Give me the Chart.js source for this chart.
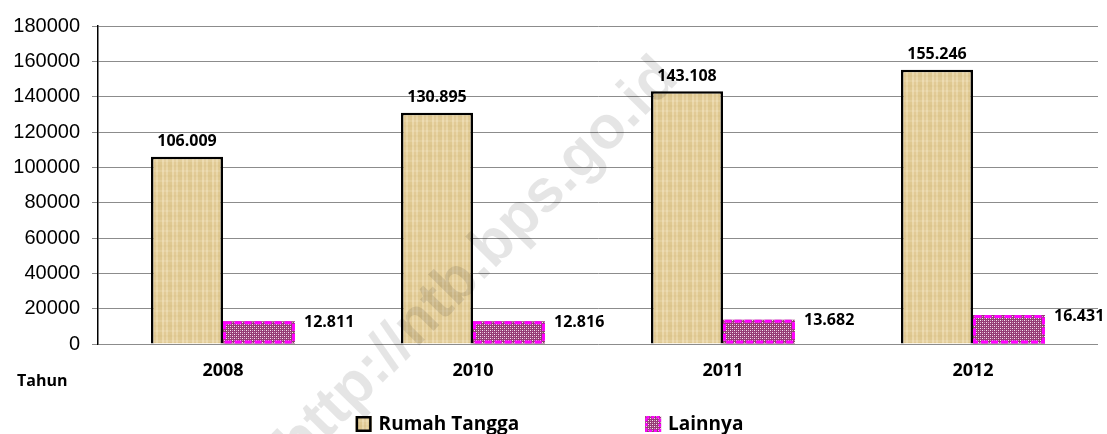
<!DOCTYPE html>
<html>
<head>
<meta charset="utf-8">
<script src="https://cdn.jsdelivr.net/npm/chart.js@4.4.1/dist/chart.umd.min.js"></script>
<style>
  html, body { margin: 0; padding: 0; background: #fff; }
  #wrap { width: 1107px; height: 434px; position: relative; }
</style>
</head>
<body>
<div id="wrap"><canvas id="c" width="1107" height="434"></canvas></div>
<script>
// ---- data ----
const categories = ['2008', '2010', '2011', '2012'];
const rumahTangga = [106009, 130895, 143108, 155246];
const lainnya = [12811, 12816, 13682, 16431];
const seriesNames = ['Rumah Tangga', 'Lainnya'];
const yTickMin = 0, yTickMax = 180000, yTickStep = 20000;
const axisTitle = 'Tahun';
const watermark = 'http://ntb.bps.go.id';

function fmt(v) {
  return String(v).replace(/\B(?=(\d{3})+(?!\d))/g, '.');
}

// ---- patterns ----
function makePapyrus() {
  const c = document.createElement('canvas');
  c.width = 30; c.height = 40;
  const g = c.getContext('2d');
  g.fillStyle = '#E5CF9C';
  g.fillRect(0, 0, 30, 40);
  const shades = ['rgba(200,170,100,0.18)', 'rgba(255,245,215,0.25)', 'rgba(205,175,105,0.12)',
                  'rgba(255,248,225,0.18)', 'rgba(195,165,95,0.15)'];
  for (let x = 0; x < 30; x += 2) {
    g.fillStyle = shades[(x / 2) % shades.length];
    g.fillRect(x, 0, 2, 40);
  }
  for (let y = 0; y < 40; y += 5) {
    g.fillStyle = y % 10 === 0 ? 'rgba(255,250,230,0.15)' : 'rgba(190,160,90,0.08)';
    g.fillRect(0, y, 30, 2);
  }
  return g.createPattern(c, 'repeat');
}
function makeChecker() {
  const c = document.createElement('canvas');
  c.width = 4; c.height = 4;
  const g = c.getContext('2d');
  g.fillStyle = '#953A74';
  g.fillRect(0, 0, 4, 4);
  g.fillStyle = '#F6E6F0';
  g.fillRect(0, 0, 1, 1);
  g.fillRect(2, 2, 1, 1);
  g.fillStyle = '#CE9CBD';
  g.fillRect(2, 0, 1, 1);
  g.fillRect(0, 2, 1, 1);
  return g.createPattern(c, 'repeat');
}
const papyrus = makePapyrus();
const checker = makeChecker();

const LABEL_FONT = 'bold 16px "Open Sans"';

const decorPlugin = {
  id: 'decor',
  afterDatasetsDraw(chart) {
    const ctx = chart.ctx;
    ctx.save();
    // dashed magenta border for Lainnya
    const m1 = chart.getDatasetMeta(1);
    ctx.strokeStyle = '#FF00FF';
    ctx.lineWidth = 3;
    ctx.setLineDash([7, 3]);
    m1.data.forEach(el => {
      const p = el.getProps(['x', 'y', 'base', 'width'], true);
      ctx.strokeRect(p.x - p.width / 2 + 1.5, p.y + 1.5, p.width - 3, p.base - p.y - 3);
    });
    ctx.setLineDash([]);
    // data labels
    ctx.fillStyle = '#000';
    ctx.font = LABEL_FONT;
    ctx.textBaseline = 'middle';
    const m0 = chart.getDatasetMeta(0);
    ctx.textAlign = 'center';
    m0.data.forEach((el, i) => {
      const p = el.getProps(['x', 'y'], true);
      ctx.fillText(fmt(rumahTangga[i]), p.x, p.y - 15);
    });
    ctx.textAlign = 'left';
    m1.data.forEach((el, i) => {
      const p = el.getProps(['x', 'y', 'width'], true);
      ctx.fillText(fmt(lainnya[i]), p.x + p.width / 2 + 9, p.y + 1);
    });
    ctx.restore();
  },
  afterDraw(chart) {
    const ctx = chart.ctx;
    const ca = chart.chartArea;
    ctx.save();
    // axis title "Tahun"
    ctx.fillStyle = '#000';
    ctx.font = 'bold 16px "Open Sans"';
    ctx.textAlign = 'left';
    ctx.textBaseline = 'middle';
    ctx.fillText(axisTitle, ca.left - 81, ca.bottom + 37);

    // legend
    const font = 'bold 19px "Open Sans"';
    ctx.font = font;
    const box = 16, gap = 7, spacing = 126;
    const w0 = ctx.measureText(seriesNames[0]).width;
    const w1 = ctx.measureText(seriesNames[1]).width;
    const total = box + gap + w0 + spacing + box + gap + w1;
    let x = chart.width / 2 - total / 2 - 4;
    const cy = 424;
    // item 1
    ctx.fillStyle = papyrus;
    ctx.fillRect(x, cy - box / 2, box, box);
    ctx.strokeStyle = '#000';
    ctx.lineWidth = 2.5;
    ctx.strokeRect(x + 1.25, cy - box / 2 + 1.25, box - 2.5, box - 2.5);
    ctx.fillStyle = '#000';
    ctx.fillText(seriesNames[0], x + box + gap, cy + 1);
    x += box + gap + w0 + spacing;
    // item 2
    ctx.fillStyle = checker;
    ctx.fillRect(x, cy - box / 2, box, box);
    ctx.strokeStyle = '#FF00FF';
    ctx.lineWidth = 2.5;
    ctx.setLineDash([3, 2]);
    ctx.strokeRect(x + 1.25, cy - box / 2 + 1.25, box - 2.5, box - 2.5);
    ctx.setLineDash([]);
    ctx.fillStyle = '#000';
    ctx.fillText(seriesNames[1], x + box + gap, cy + 1);

    // watermark
    ctx.translate(478, 262);
    ctx.rotate(-45.5 * Math.PI / 180);
    ctx.font = 'bold 60px "Liberation Sans"';
    ctx.textAlign = 'center';
    ctx.textBaseline = 'middle';
    ctx.fillStyle = 'rgba(0,0,0,0.10)';
    ctx.fillText(watermark, 0, 0);
    ctx.restore();
  }
};

new Chart(document.getElementById('c'), {
  type: 'bar',
  data: {
    labels: categories,
    datasets: [
      {
        label: seriesNames[0],
        data: rumahTangga,
        backgroundColor: papyrus,
        borderColor: '#000',
        borderWidth: 2.5,
        categoryPercentage: 0.576,
        barPercentage: 1
      },
      {
        label: seriesNames[1],
        data: lainnya,
        backgroundColor: checker,
        borderWidth: 0,
        categoryPercentage: 0.576,
        barPercentage: 1
      }
    ]
  },
  options: {
    responsive: false,
    animation: false,
    devicePixelRatio: 1,
    layout: { padding: { top: 26, right: 9, bottom: 50, left: 0 } },
    plugins: {
      legend: { display: false },
      tooltip: { enabled: false },
      title: { display: false }
    },
    scales: {
      x: {
        grid: { display: false },
        border: { display: false },
        ticks: {
          color: '#000',
          font: { family: 'Open Sans', size: 18, weight: 'bold' },
          padding: 8
        },
        afterFit(s) { s.height = 40; }
      },
      y: {
        min: yTickMin,
        max: yTickMax,
        ticks: {
          stepSize: yTickStep,
          color: '#000',
          font: { family: 'Liberation Sans', size: 20 },
          padding: 12,
          callback: v => String(v)
        },
        grid: { color: '#8c8c8c', lineWidth: 1, tickLength: 6 },
        border: { color: '#000', width: 1.5 },
        afterFit(s) { s.width = 98; }
      }
    }
  },
  plugins: [decorPlugin]
});
</script>
</body>
</html>
